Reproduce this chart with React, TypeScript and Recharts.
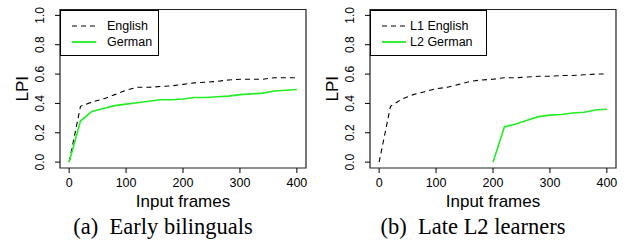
import * as React from "react"
import { LineChart, Line, XAxis, YAxis, ReferenceArea, Label } from "recharts"

// frames 0..400, sampled every 20
const frames = [0, 20, 40, 60, 80, 100, 120, 140, 160, 180, 200, 220, 240, 260, 280, 300, 320, 340, 360, 380, 400]
const earlyEnglish = [0, 0.38, 0.41, 0.43, 0.46, 0.49, 0.51, 0.51, 0.515, 0.52, 0.53, 0.54, 0.545, 0.55, 0.56, 0.565, 0.565, 0.565, 0.575, 0.575, 0.575]
const earlyGerman = [0, 0.28, 0.345, 0.365, 0.385, 0.395, 0.405, 0.415, 0.425, 0.425, 0.43, 0.44, 0.44, 0.445, 0.45, 0.46, 0.465, 0.47, 0.485, 0.49, 0.495]
const lateEnglish = [0, 0.38, 0.43, 0.46, 0.48, 0.5, 0.51, 0.53, 0.55, 0.56, 0.565, 0.575, 0.575, 0.58, 0.585, 0.585, 0.59, 0.59, 0.595, 0.6, 0.6]
const lateGermanFrames = [200, 220, 240, 260, 280, 300, 320, 340, 360, 380, 400]
const lateGerman = [0, 0.24, 0.26, 0.285, 0.31, 0.32, 0.325, 0.335, 0.34, 0.355, 0.36]

const xTicks = [0, 100, 200, 300, 400]
const yTicks = [0, 0.2, 0.4, 0.6, 0.8, 1.0]

const SANS = "'Liberation Sans', Arial, sans-serif"
const SERIF = "'Liberation Serif', 'Times New Roman', serif"

const toRows = (xs: number[], ys: number[]) => xs.map((f, i) => ({ frame: f, lpi: ys[i] }))

const YTick = (props: any) => {
  const { x, y, payload } = props
  const bx = x - 9
  return (
    <text x={bx} y={y} textAnchor="middle" fontSize={12} fontFamily={SANS} fill="#000"
      transform={`rotate(-90, ${bx}, ${y})`}>
      {payload.value.toFixed(1)}
    </text>
  )
}

const XTick = (props: any) => {
  const { x, y, payload } = props
  return (
    <text x={x} y={y + 12} textAnchor="middle" fontSize={12.5} fontFamily={SANS} fill="#000">
      {payload.value}
    </text>
  )
}

const XLabel = (props: any) => {
  const vb = props.viewBox
  return (
    <text x={vb.x + vb.width / 2} y={vb.y + 38.5} textAnchor="middle" fontSize={17} fontFamily={SANS} fill="#000">
      Input frames
    </text>
  )
}

const YLabel = (props: any) => {
  const vb = props.viewBox
  const bx = vb.x + 28
  const cy = vb.y + vb.height / 2
  return (
    <text x={bx} y={cy} textAnchor="middle" fontSize={17} fontFamily={SANS} fill="#000"
      transform={`rotate(-90, ${bx}, ${cy})`}>
      LPI
    </text>
  )
}

type Series = { name: string; xs: number[]; ys: number[]; dashed: boolean }

type PanelProps = {
  left: number
  series: Series[]
  caption: string
  legendWidth: number
  legendTextX: number
}

function Panel({ left, series, caption, legendWidth, legendTextX }: PanelProps) {
  return (
    <div style={{ position: "absolute", left, top: 0, width: 316, height: 244 }}>
      <LineChart width={316} height={212} margin={{ top: 9.5, right: 10, left: 0, bottom: 0 }}>
        <XAxis dataKey="frame" type="number" domain={[-16, 416]} ticks={xTicks} allowDataOverflow
          axisLine={false} tickLine={{ stroke: "#000" }} tickSize={5} tickMargin={2} height={44} tick={<XTick />}>
          <Label content={<XLabel />} />
        </XAxis>
        <YAxis type="number" domain={[-0.04, 1.04]} ticks={yTicks} allowDataOverflow
          axisLine={false} tickLine={{ stroke: "#000" }} tickSize={5} tickMargin={2} width={60} tick={<YTick />}>
          <Label content={<YLabel />} />
        </YAxis>
        <ReferenceArea x1={-16} x2={416} y1={-0.04} y2={1.04} fill="none" stroke="#222" strokeWidth={1.2} />
        {series.map((s) => (
          <Line key={s.name} data={toRows(s.xs, s.ys)} dataKey="lpi" name={s.name}
            stroke={s.dashed ? "#000" : "#22ee22"} strokeWidth={s.dashed ? 1.1 : 1.6}
            strokeDasharray={s.dashed ? "5 4" : undefined} dot={false} type="linear" isAnimationActive={false} />
        ))}
      </LineChart>
      <div style={{ position: "absolute", left: 60, top: 9.5, width: legendWidth, height: 46,
        boxSizing: "border-box", border: "1px solid #000", background: "#fff", fontFamily: SANS, fontSize: 12.5 }}>
        {series.map((s, i) => (
          <div key={s.name} style={{ position: "absolute", left: 0, top: 8 + i * 16.5, height: 14, width: "100%" }}>
            <svg width={40} height={14} style={{ position: "absolute", left: 10, top: 0 }}>
              <line x1={1} x2={25} y1={7} y2={7} stroke={s.dashed ? "#000" : "#22ee22"}
                strokeWidth={s.dashed ? 1.1 : 1.8} strokeDasharray={s.dashed ? "5 4" : undefined} />
            </svg>
            <span style={{ position: "absolute", left: legendTextX, top: -1, lineHeight: "16px", whiteSpace: "nowrap" }}>{s.name}</span>
          </div>
        ))}
      </div>
      <div style={{ position: "absolute", left: 0, top: 214, width: 326, textAlign: "center",
        fontFamily: SERIF, fontSize: 22.5, whiteSpace: "pre" }}>
        {caption}
      </div>
    </div>
  )
}

export default function App() {
  return (
    <div style={{ position: "absolute", left: 0, top: 0, width: 633, height: 244, background: "#fff" }}>
      <Panel left={0} caption={"(a)  Early bilinguals"} legendWidth={99} legendTextX={46}
        series={[
          { name: "English", xs: frames, ys: earlyEnglish, dashed: true },
          { name: "German", xs: frames, ys: earlyGerman, dashed: false },
        ]} />
      <Panel left={310} caption={"(b)  Late L2 learners"} legendWidth={117} legendTextX={39}
        series={[
          { name: "L1 English", xs: frames, ys: lateEnglish, dashed: true },
          { name: "L2 German", xs: lateGermanFrames, ys: lateGerman, dashed: false },
        ]} />
    </div>
  )
}
